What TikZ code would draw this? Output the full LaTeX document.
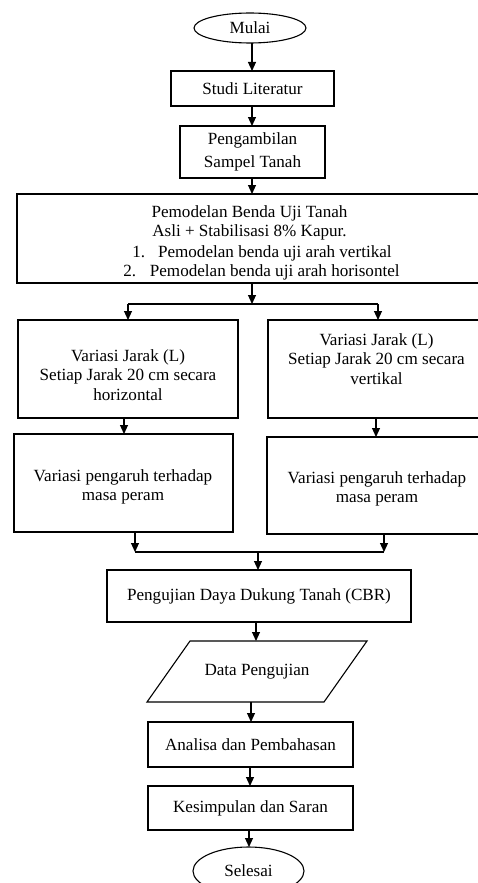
\documentclass[tikz,border=0pt]{standalone}
\usepackage{fontspec}
\setmainfont{Liberation Serif}
\usetikzlibrary{arrows.meta,shapes.geometric,calc}
\begin{document}
\begin{tikzpicture}[x=1pt,y=-1pt,
  every node/.style={inner sep=0pt, outer sep=0pt},
  box/.style={draw, rectangle, line width=1.1pt},
  oval/.style={draw, ellipse, line width=1.1pt},
  txt/.style={align=center, font=\fontsize{17.1}{19.5}\selectfont},
  arr/.style={line width=1.1pt, -{Triangle[length=9pt,width=8pt]}},
  ln/.style={line width=1.1pt}]
\useasboundingbox (0,0) rectangle (478,883);
\fill[white] (0,0) rectangle (478,883);

% column coordinates
\coordinate (c252) at (252,0);
\coordinate (c124) at (124,0);
\coordinate (c376) at (376,0);
\coordinate (c256) at (256,0);
\coordinate (c251) at (251,0);
\coordinate (c250) at (250,0);
\coordinate (c249) at (249,0);

% nodes
\node[oval, txt, minimum width=112pt, minimum height=30pt] (mulai) at (250,28) {Mulai};
\node[box, txt, minimum width=163pt, minimum height=35pt] (studi) at (252.5,88.5) {Studi Literatur};
\node[box, txt, font=\fontsize{17.1}{23}\selectfont, minimum width=145pt, minimum height=52pt] (ambil) at (252.5,152) {Pengambilan\\Sampel Tanah};

\node[box, minimum width=480pt, minimum height=89pt] (model) at (257,238.5) {};
\node[txt] (m12) at (249.5,223) {Pemodelan Benda Uji Tanah\\Asli + Stabilisasi 8\% Kapur.};
\node[txt] (m3) at (262,253) {1.\hspace{0.75em}Pemodelan benda uji arah vertikal};
\node[txt] (m4) at (261.5,272) {2.\hspace{0.8em}Pemodelan benda uji arah horisontel};

\node[box, minimum width=220pt, minimum height=98pt] (A) at (128,369) {};
\node[txt] (Atxt) at (128,375) {Variasi Jarak (L)\\Setiap Jarak 20 cm secara\\horizontal};
\node[box, minimum width=232pt, minimum height=98pt] (B) at (384,369) {};
\node[txt] (Btxt) at (376.5,359) {Variasi Jarak (L)\\Setiap Jarak 20 cm secara\\vertikal};

\node[box, minimum width=219pt, minimum height=98pt] (C) at (123.5,483) {};
\node[txt] (Ctxt) at (123,487) {Variasi pengaruh terhadap\\masa peram};
\node[box, minimum width=233pt, minimum height=97pt] (D) at (383.5,485.5) {};
\node[txt] (Dtxt) at (377,489) {Variasi pengaruh terhadap\\masa peram};

\node[box, txt, minimum width=304pt, minimum height=52pt] (E) at (259,596) {Pengujian Daya Dukung Tanah (CBR)};
\node[txt, minimum width=220pt, minimum height=61pt] (F) at (257,671.5) {Data Pengujian};
\draw[ln] ($(F.north west)+(43,0)$) -- (F.north east) -- ($(F.south east)+(-43,0)$) -- (F.south west) -- cycle;
\node[box, txt, minimum width=205pt, minimum height=45pt] (G) at (250.5,744.5) {Analisa dan Pembahasan};
\node[box, txt, minimum width=205pt, minimum height=44pt] (H) at (250.5,808) {Kesimpulan dan Saran};
\node[oval, txt, minimum width=111pt, minimum height=48pt] (selesai) at (248.5,871) {Selesai};

% junctions
\coordinate (j1) at (252,304);
\coordinate (j1l) at (128,304);
\coordinate (j1r) at (378,304);
\coordinate (j2) at (258,552);
\coordinate (j2l) at (135,552);
\coordinate (j2r) at (384,552);

% connectors
\draw[arr] (mulai.south -| c252) -- (studi.north -| c252);
\draw[arr] (studi.south -| c252) -- (ambil.north -| c252);
\draw[arr] (ambil.south -| c252) -- (model.north -| c252);
\draw[arr] (model.south -| j1) -- (j1);
\draw[ln] (j1l) -- (j1r);
\draw[arr] (j1l) -- (A.north -| j1l);
\draw[arr] (j1r) -- (B.north -| j1r);
\draw[arr] (A.south -| c124) -- (C.north -| c124);
\draw[arr] (B.south -| c376) -- (D.north -| c376);
\draw[arr] (C.south -| j2l) -- (j2l);
\draw[arr] (D.south -| j2r) -- (j2r);
\draw[ln] (j2l) -- (j2r);
\draw[arr] (j2) -- (E.north -| j2);
\draw[arr] (E.south -| c256) -- (F.north -| c256);
\draw[arr] (F.south -| c251) -- (G.north -| c251);
\draw[arr] (G.south -| c250) -- (H.north -| c250);
\draw[arr] (H.south -| c249) -- (selesai.north -| c249);
\end{tikzpicture}
\end{document}
